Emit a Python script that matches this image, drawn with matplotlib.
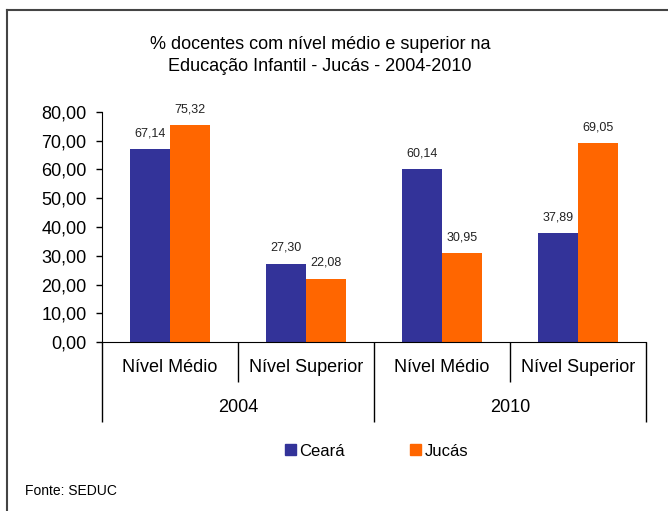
import numpy as np
import matplotlib
matplotlib.use('Agg')
import matplotlib.pyplot as plt
from matplotlib.patches import Patch
from matplotlib.lines import Line2D

plt.rcParams['font.family'] = ['Liberation Sans', 'DejaVu Sans']

# data
subcats = ['Nível Médio', 'Nível Superior', 'Nível Médio', 'Nível Superior']
years = ['2004', '2010']
ceara = [67.14, 27.30, 60.14, 37.89]
jucas = [75.32, 22.08, 30.95, 69.05]
series_names = ['Ceará', 'Jucás']
colors = ['#333399', '#FF6600']

title = '% docentes com nível médio e superior na\nEducação Infantil - Jucás - 2004-2010'
source = 'Fonte: SEDUC'


def fmt(v):
	return '{:.2f}'.format(v).replace('.', ',')


fig = plt.figure(figsize=(6.68, 5.11), dpi=100)
ax = fig.add_axes([102/668, 1 - 342/511, (646 - 102)/668, (342 - 112)/511])

x = np.arange(len(subcats))
w = 0.295
b1 = ax.bar(x - w/2, ceara, w, color=colors[0], label=series_names[0])
b2 = ax.bar(x + w/2, jucas, w, color=colors[1], label=series_names[1])

for bars, vals in ((b1, ceara), (b2, jucas)):
	for rect, v in zip(bars, vals):
		ax.annotate(fmt(v), (rect.get_x() + rect.get_width()/2, v),
					xytext=(0, 7), textcoords='offset points',
					ha='center', va='bottom', fontsize=9, color='#222222')

ax.set_xlim(-0.5, len(subcats) - 0.5)
ax.set_ylim(0, 80)
ax.set_yticks(np.arange(0, 81, 10))
ax.set_yticklabels([fmt(t) for t in np.arange(0, 81, 10)], fontsize=13)
ax.tick_params(axis='y', direction='out', length=4, width=1, pad=7, color='black')

# two-level category axis
ax.set_xticks([-0.5, 1.5, 3.5])
ax.set_xticks([0.5, 2.5], minor=True)
ax.set_xticklabels([])
ax.tick_params(axis='x', which='major', direction='out', length=57.6, width=1, color='black')
ax.tick_params(axis='x', which='minor', direction='out', length=28.8, width=1, color='black')

for i, s in enumerate(subcats):
	ax.annotate(s, (i, 0), xycoords=('data', 'axes fraction'),
				xytext=(0, -18.7), textcoords='offset points',
				ha='center', va='center', fontsize=13)
for j, yr in enumerate(years):
	ax.annotate(yr, (2*j + 0.5, 0), xycoords=('data', 'axes fraction'),
				xytext=(0, -47.5), textcoords='offset points',
				ha='center', va='center', fontsize=13)

ax.spines['top'].set_visible(False)
ax.spines['right'].set_visible(False)
ax.spines['left'].set_color('black')
ax.spines['bottom'].set_color('black')

fig.text(320/668, 1 - 55.5/511, title, ha='center', va='center',
		 fontsize=13, linespacing=1.45)

handles = [Patch(color=c, label=n) for c, n in zip(colors, series_names)]
fig.legend(handles=handles, loc='center', bbox_to_anchor=(376.5/668, 1 - 451/511),
		   ncol=2, frameon=False, fontsize=12, handlelength=0.66, handleheight=0.66,
		   handletextpad=0.2, columnspacing=3.9, borderpad=0, borderaxespad=0)

fig.text(25/668, 1 - 491/511, source, ha='left', va='center', fontsize=10)

# outer chart frame (only top and left edges visible in the crop)
fig.add_artist(Line2D([7/668, 7/668], [0, 1 - 10/511], transform=fig.transFigure,
					  color='#444444', lw=1.5))
fig.add_artist(Line2D([7/668, 1], [1 - 10/511, 1 - 10/511], transform=fig.transFigure,
					  color='#444444', lw=1.5))

fig.savefig('out.png', dpi=100)
